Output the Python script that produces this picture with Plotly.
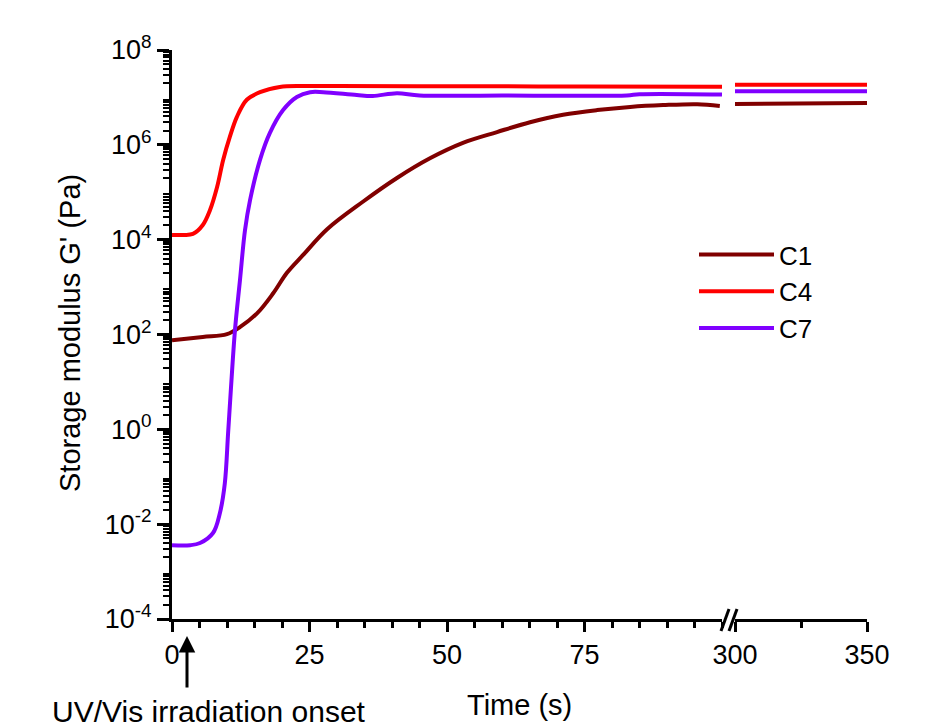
import plotly.graph_objects as go

# ---------------- data ----------------
series_names = ["C1", "C4", "C7"]
series_colors = ["#800000", "#FF0000", "#8000FF"]

# left segment (0-100 s)
t_c1 = [0, 5.6, 10, 12.4, 15.5, 18.4, 20.9, 23.8, 28.2, 34.7, 40.9, 46.9, 52.9,
        59.1, 65.1, 71.1, 77.3, 83.3, 89.3, 95.5, 99.6]
g_c1 = [76, 89, 102, 145, 282, 740, 2.0e3, 4.7e3, 1.66e4, 6.3e4, 2.0e5, 5.2e5,
        1.1e6, 1.86e6, 3.0e6, 4.3e6, 5.4e6, 6.3e6, 6.9e6, 7.2e6, 6.6e6]

t_c4 = [0, 2, 3.8, 5.6, 6.9, 8.2, 9.3, 10.5, 11.8, 13.6, 16.0, 19.6, 23.8, 30,
        50, 75, 100]
g_c4 = [1.26e4, 1.26e4, 1.32e4, 2.04e4, 4.17e4, 1.29e5, 4.79e5, 1.45e6, 3.89e6,
        8.91e6, 1.29e7, 1.66e7, 1.74e7, 1.74e7, 1.72e7, 1.70e7, 1.68e7]

t_c7 = [0, 3.3, 5.1, 7.45, 8.7, 9.6, 10.2, 10.7, 11.45, 12.36, 13.27, 14.2,
        16.0, 17.8, 20.2, 22.7, 25.1, 27.5, 33.6, 36.5, 40.9, 45, 60, 82.7, 85, 100]
g_c7 = [3.6e-3, 3.6e-3, 4.0e-3, 6.5e-3, 1.7e-2, 7.2e-2, 0.83, 6.8, 123, 1.41e3,
        1.58e4, 6.9e4, 4.8e5, 1.78e6, 5.4e6, 1.02e7, 1.29e7, 1.29e7, 1.12e7,
        1.07e7, 1.23e7, 1.10e7, 1.10e7, 1.10e7, 1.17e7, 1.15e7]

# right segment (300-350 s)
t2_c1 = [300, 342, 343, 350]
g2_c1 = [7.26e6, 7.28e6, 7.62e6, 7.62e6]
t2_c4 = [300, 350]
g2_c4 = [1.85e7, 1.86e7]
t2_c7 = [300, 350]
g2_c7 = [1.35e7, 1.35e7]

x_left_ticks = [0, 25, 50, 75]
x_right_ticks = [300, 350]
y_label_decades = [-4, -2, 0, 2, 4, 6, 8]
y_unlabeled_decades = [-3, -1, 1, 3, 5, 7]

left_t = [t_c1, t_c4, t_c7]
left_g = [g_c1, g_c4, g_c7]
right_t = [t2_c1, t2_c4, t2_c7]
right_g = [g2_c1, g2_c4, g2_c7]

FONT = "Liberation Sans, Arial, sans-serif"

fig = go.Figure()
for name, col, tx, gy in zip(series_names, series_colors, left_t, left_g):
    fig.add_trace(go.Scatter(x=tx, y=gy, mode="lines", name=name,
                             line=dict(color=col, width=4, shape="spline", smoothing=1.0),
                             xaxis="x", yaxis="y"))
for name, col, tx, gy in zip(series_names, series_colors, right_t, right_g):
    fig.add_trace(go.Scatter(x=tx, y=gy, mode="lines", name=name, showlegend=False,
                             line=dict(color=col, width=4),
                             xaxis="x2", yaxis="y"))

OFF = 8  # page body margin
W, H = 924, 719
L, T = 164, 42
PW, PH = 695, 569
R = W - L - PW
B = H - T - PH


def px(xpage):
    return (xpage - OFF - L) / PW


def py(ypage):
    return (H - B - (ypage - OFF)) / PH


ytickvals = [10.0 ** d for d in y_label_decades]
yticktext = ["10<sup>%d</sup>" % d for d in y_label_decades]
yodd = [10.0 ** d for d in y_unlabeled_decades]
yminor = [m * 10.0 ** d for d in range(-4, 8) for m in range(2, 10)]

axis_common = dict(showline=True, linecolor="black", linewidth=3, ticks="outside",
                   tickcolor="black", tickwidth=2.5, showgrid=False, zeroline=False,
                   tickfont=dict(family=FONT, size=27, color="black"))

fig.update_layout(
    width=W, height=H,
    margin=dict(l=L, r=R, t=T, b=B, autoexpand=False),
    paper_bgcolor="white", plot_bgcolor="white",
    font=dict(family=FONT, color="black"),
    xaxis=dict(domain=[0, px(722)], range=[0, 100], tickmode="array",
               tickvals=x_left_ticks, ticklen=10, anchor="y",
               minor=dict(dtick=5, tick0=0, ticks="outside", ticklen=6, tickwidth=2.5,
                          tickcolor="black", showgrid=False),
               **axis_common),
    xaxis2=dict(domain=[px(735), 1], range=[300, 350], tickmode="array",
                tickvals=x_right_ticks, ticklen=10, anchor="y",
                minor=dict(dtick=25, tick0=300, ticks="outside", ticklen=6, tickwidth=2.5,
                           tickcolor="black", showgrid=False),
                **axis_common),
    yaxis=dict(type="log", range=[-4, 8], tickmode="array", tickvals=ytickvals,
               ticktext=yticktext, ticklen=12,
               minor=dict(tickmode="array", tickvals=yminor, ticks="outside", ticklen=6,
                          tickwidth=2, tickcolor="black", showgrid=False),
               **axis_common),
    yaxis2=dict(type="log", range=[-4, 8], overlaying="y", side="left", anchor="x",
                tickmode="array", tickvals=yodd, showticklabels=False, ticks="outside",
                ticklen=12, tickwidth=2.5, tickcolor="black", showline=False,
                showgrid=False, zeroline=False),
    legend=dict(x=px(694), y=py(231), xanchor="left", yanchor="top",
                font=dict(family=FONT, size=26, color="black"),
                bgcolor="rgba(0,0,0,0)", tracegroupgap=0, itemwidth=75),
    showlegend=True,
)

# axis titles and annotation text
fig.add_annotation(text="Storage modulus G' (Pa)", xref="paper", yref="paper",
                   x=px(70), y=py(333), textangle=-90, showarrow=False,
                   xanchor="center", yanchor="middle",
                   font=dict(family=FONT, size=29, color="black"))
fig.add_annotation(text="Time (s)", xref="paper", yref="paper",
                   x=px(520), y=py(705), showarrow=False,
                   xanchor="center", yanchor="middle",
                   font=dict(family=FONT, size=29, color="black"))
fig.add_annotation(text="UV/Vis irradiation onset", xref="paper", yref="paper",
                   x=px(209), y=py(711), showarrow=False,
                   xanchor="center", yanchor="middle",
                   font=dict(family=FONT, size=30, color="black"))
# arrow
fig.add_annotation(text=" ", xref="paper", yref="paper", x=px(187), y=py(636),
                   ax=0, ay=60, showarrow=True, arrowhead=2, arrowsize=1.1,
                   arrowwidth=3, arrowcolor="black", standoff=0)

# axis break marks
for x0, x1 in [(721, 729), (729, 737)]:
    fig.add_shape(type="line", xref="paper", yref="paper", x0=px(x0), x1=px(x1),
                  y0=py(631), y1=py(609), line=dict(color="black", width=3))

fig.write_html("out.html")
